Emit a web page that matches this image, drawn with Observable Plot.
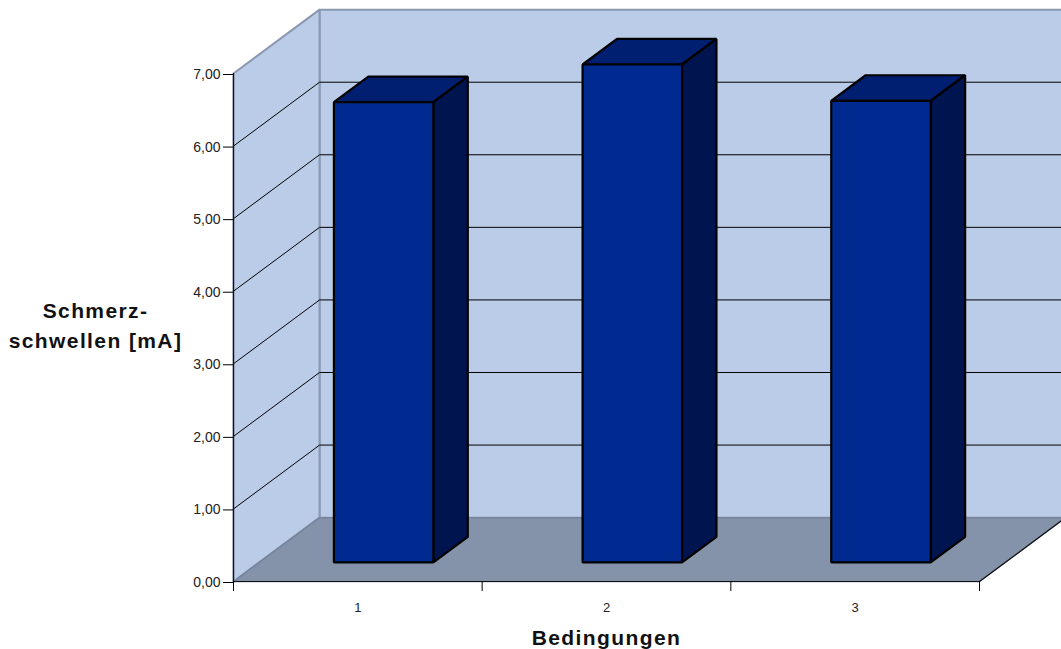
<!DOCTYPE html>
<html lang="de">
<head>
<meta charset="utf-8">
<title>Schmerzschwellen</title>
<script src="https://cdn.jsdelivr.net/npm/d3@7"></script>
<script src="https://cdn.jsdelivr.net/npm/@observablehq/plot@0.6"></script>
<style>
  html, body { margin: 0; padding: 0; background: #fff; overflow: hidden; }
  /* Wider tracking for the two axis titles */
  g[aria-label="text"] text { letter-spacing: 1.4px; }
</style>
</head>
<body>
<div id="chart"></div>
<script>
// Pain thresholds per condition
const categories = ["1", "2", "3"];
const thresholds = [6.34, 6.86, 6.36];
const valueTicks = [0, 1, 2, 3, 4, 5, 6, 7];
const gridValues = [1, 2, 3, 4, 5, 6];
const slotEdges = [0, 1, 2, 3];

// Oblique projection: how far one unit of depth shifts a point, in scale units
const depthX = 0.346;
const depthY = 0.88;
const at = (slot, value, depth) => ({x: slot + depth * depthX, y: value + depth * depthY});

// Each face of the box is a closed polygon in scale coordinates
const face = (corners) => corners.map(([s, v, d]) => at(s, v, d));
const slots = categories.map((_, i) => i);
const maxValue = 7;
const lastSlot = 3;

const backWall = face([[0, 0, 1], [lastSlot, 0, 1], [lastSlot, maxValue, 1], [0, maxValue, 1]]);
const sideWall = face([[0, 0, 0], [0, 0, 1], [0, maxValue, 1], [0, maxValue, 0]]);
const floor = face([[0, 0, 0], [lastSlot, 0, 0], [lastSlot, 0, 1], [0, 0, 1]]);

// Bars sit in the middle of the depth and fill 40% of their slot
const barNear = 0.3, barFar = 0.7, barGap = 0.3;
const barFaces = (pick) => slots.flatMap((i) => pick(i + barGap, i + 1 - barGap, thresholds[i])
  .map(([s, v, d]) => ({...at(s, v, d), bar: i})));
const frontFaces = barFaces((l, r, v) => [[l, 0, barNear], [r, 0, barNear], [r, v, barNear], [l, v, barNear]]);
const topFaces = barFaces((l, r, v) => [[l, v, barNear], [r, v, barNear], [r, v, barFar], [l, v, barFar]]);
const rightFaces = barFaces((l, r, v) => [[r, 0, barNear], [r, 0, barFar], [r, v, barFar], [r, v, barNear]]);

const gridPaths = gridValues.flatMap((v) => [
  {...at(0, v, 0), v}, {...at(0, v, 1), v}, {...at(lastSlot, v, 1), v}
]);

const polygon = (data, fill, options = {}) =>
  Plot.line(data, {x: "x", y: "y", curve: "linear-closed", fill, stroke: fill, ...options});

const wallEdge = "#8a98b0";
const barEdge = {stroke: "#000", strokeWidth: 2.2, strokeLinejoin: "miter", z: "bar"};

const chart = Plot.plot({
  width: 1061,
  height: 649,
  marginLeft: 233,
  marginRight: 82,
  marginTop: 73,
  marginBottom: 68,
  style: {overflow: "hidden", background: "#fff", fontFamily: "'Liberation Sans', Arial, sans-serif"},
  x: {domain: [0, lastSlot]},
  y: {domain: [0, maxValue]},
  marks: [
    polygon(backWall, "#bbcce9", {stroke: wallEdge, strokeWidth: 2}),
    polygon(sideWall, "#bbcce9", {stroke: wallEdge, strokeWidth: 2}),
    polygon(floor, "#8593aa", {stroke: "#76849b", strokeWidth: 1.5}),
    Plot.line(gridPaths, {x: "x", y: "y", z: "v", stroke: "#000", strokeWidth: 1}),
    // Floor outline towards the viewer and on the right
    Plot.line(face([[lastSlot, 0, 1], [lastSlot, 0, 0], [0, 0, 0]]), {x: "x", y: "y", stroke: "#111", strokeWidth: 1.2}),
    Plot.ruleX([0], {stroke: "#111", strokeWidth: 1.2}),
    // Bars
    polygon(topFaces, "#001f70", barEdge),
    polygon(rightFaces, "#00144f", barEdge),
    polygon(frontFaces, "#002a8f", barEdge),
    // Axes
    Plot.axisY(valueTicks, {
      anchor: "left", label: null, tickSize: 10, tickPadding: 3, fontSize: 14, dy: 1, fill: "#222",
      tickFormat: (d) => d.toFixed(2).replace(".", ",")
    }),
    Plot.axisX(slotEdges, {anchor: "bottom", label: null, tickSize: 10, tickFormat: () => ""}),
    Plot.axisX(slots.map((i) => i + 0.5), {
      anchor: "bottom", label: null, tickSize: 0, tickPadding: 20, fontSize: 13, dy: 1, fill: "#222",
      tickFormat: (d) => categories[Math.floor(d)]
    }),
    // Titles
    Plot.text(["Bedingungen"], {
      frameAnchor: "bottom", dy: 63, fontSize: 21, fontWeight: "bold", fill: "#111"
    }),
    Plot.text(["Schmerz-\nschwellen [mA]"], {
      frameAnchor: "left", dx: -138, dy: -4, textAnchor: "middle", fontSize: 21, fontWeight: "bold",
      fill: "#111", lineHeight: 1.43
    })
  ]
});
document.getElementById("chart").append(chart);
</script>
</body>
</html>
